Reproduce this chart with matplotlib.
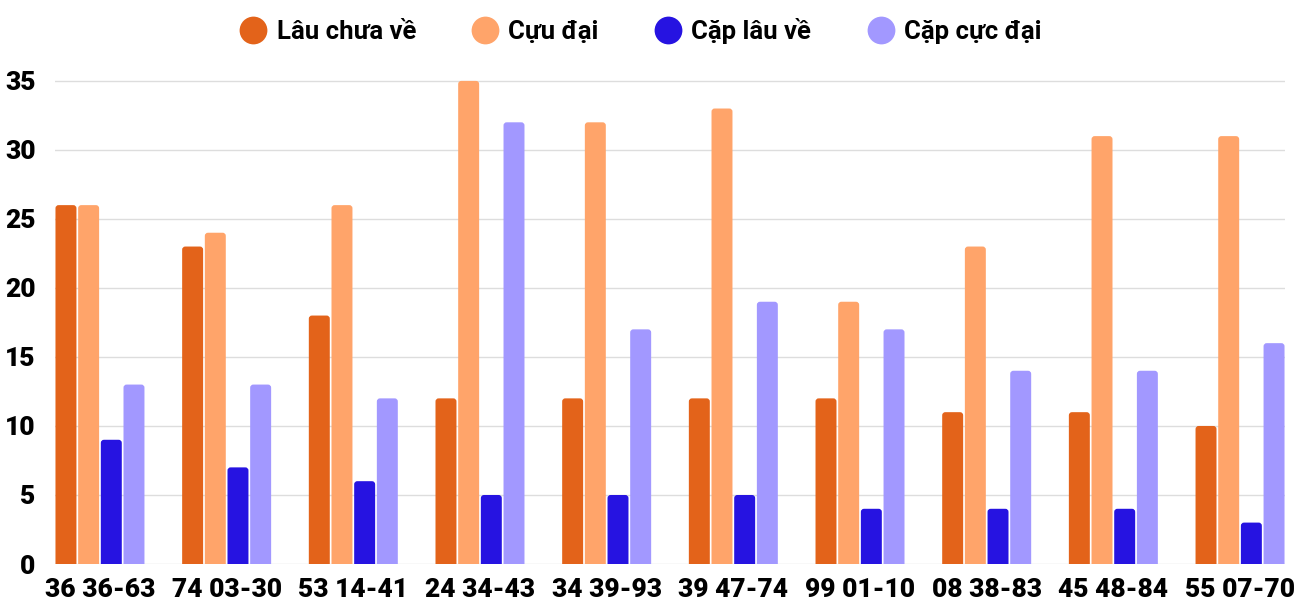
import numpy as np
import matplotlib
matplotlib.use('Agg')
import matplotlib.pyplot as plt
from matplotlib.patches import FancyBboxPatch
from matplotlib.lines import Line2D

plt.rcParams['font.family'] = ['Roboto', 'DejaVu Sans']
plt.rcParams['font.weight'] = 'bold'

labels = ['36 36-63', '74 03-30', '53 14-41', '24 34-43', '34 39-93',
          '39 47-74', '99 01-10', '08 38-83', '45 48-84', '55 07-70']
lau_chua_ve = [26, 23, 18, 12, 12, 12, 12, 11, 11, 10]
cuc_dai = [26, 24, 26, 35, 32, 33, 19, 23, 31, 31]
cap_lau_ve = [9, 7, 6, 5, 5, 5, 4, 4, 4, 3]
cap_cuc_dai = [13, 13, 12, 32, 17, 19, 17, 14, 14, 16]

series = [('Lâu chưa về', lau_chua_ve, '#E3631A'),
          ('Cựu đại', cuc_dai, '#FFA46A'),
          ('Cặp lâu về', cap_lau_ve, '#2613E1'),
          ('Cặp cực đại', cap_cuc_dai, '#A298FF')]

fig = plt.figure(figsize=(13, 6), dpi=100)
ax = fig.add_axes([55 / 1300, 36 / 600, 1230 / 1300, (564 - 74) / 600])

x = np.arange(len(labels))
step = 0.179
width = 0.1655
for i, (name, vals, col) in enumerate(series):
    bars = ax.bar(x + (i - 1.5) * step, vals, width, color=col, label=name)
    # swap for rounded-top bars
    for b in bars:
        b.set_visible(False)
        bx, by = b.get_x(), b.get_y()
        bw, bh = b.get_width(), b.get_height()
        p = FancyBboxPatch((bx, by - 0.5), bw, bh + 0.5,
                           boxstyle='round,pad=0,rounding_size=0.025',
                           mutation_aspect=9.0, facecolor=col,
                           edgecolor='none', zorder=3)
        ax.add_patch(p)

ax.set_xlim(-0.355, len(labels) - 1 + 0.355)
ax.set_ylim(0, 35.5)
ax.set_yticks(range(0, 36, 5))
ax.set_xticks(x)
ax.set_xticklabels(labels)
ax.tick_params(axis='both', length=0)
ax.tick_params(axis='y', pad=14, labelsize=19)
ax.tick_params(axis='x', pad=10, labelsize=19)
for lab in ax.get_xticklabels() + ax.get_yticklabels():
    lab.set_fontweight(900)
ax.yaxis.grid(True, color='#dddddd', linewidth=1, zorder=0)
ax.set_axisbelow(True)
for s in ax.spines.values():
    s.set_visible(False)

handles = [Line2D([0], [0], marker='o', linestyle='none', markersize=20,
                  markerfacecolor=c, markeredgecolor='none') for _, _, c in series]
fig.legend(handles, [s[0] for s in series], loc='center', bbox_to_anchor=(0.492, 1 - 31 / 600),
           ncol=4, frameon=False, prop={'size': 18.5, 'weight': 'bold'},
           handletextpad=0.3, columnspacing=2.1, handlelength=1.2)

fig.savefig('out.png', dpi=100)
